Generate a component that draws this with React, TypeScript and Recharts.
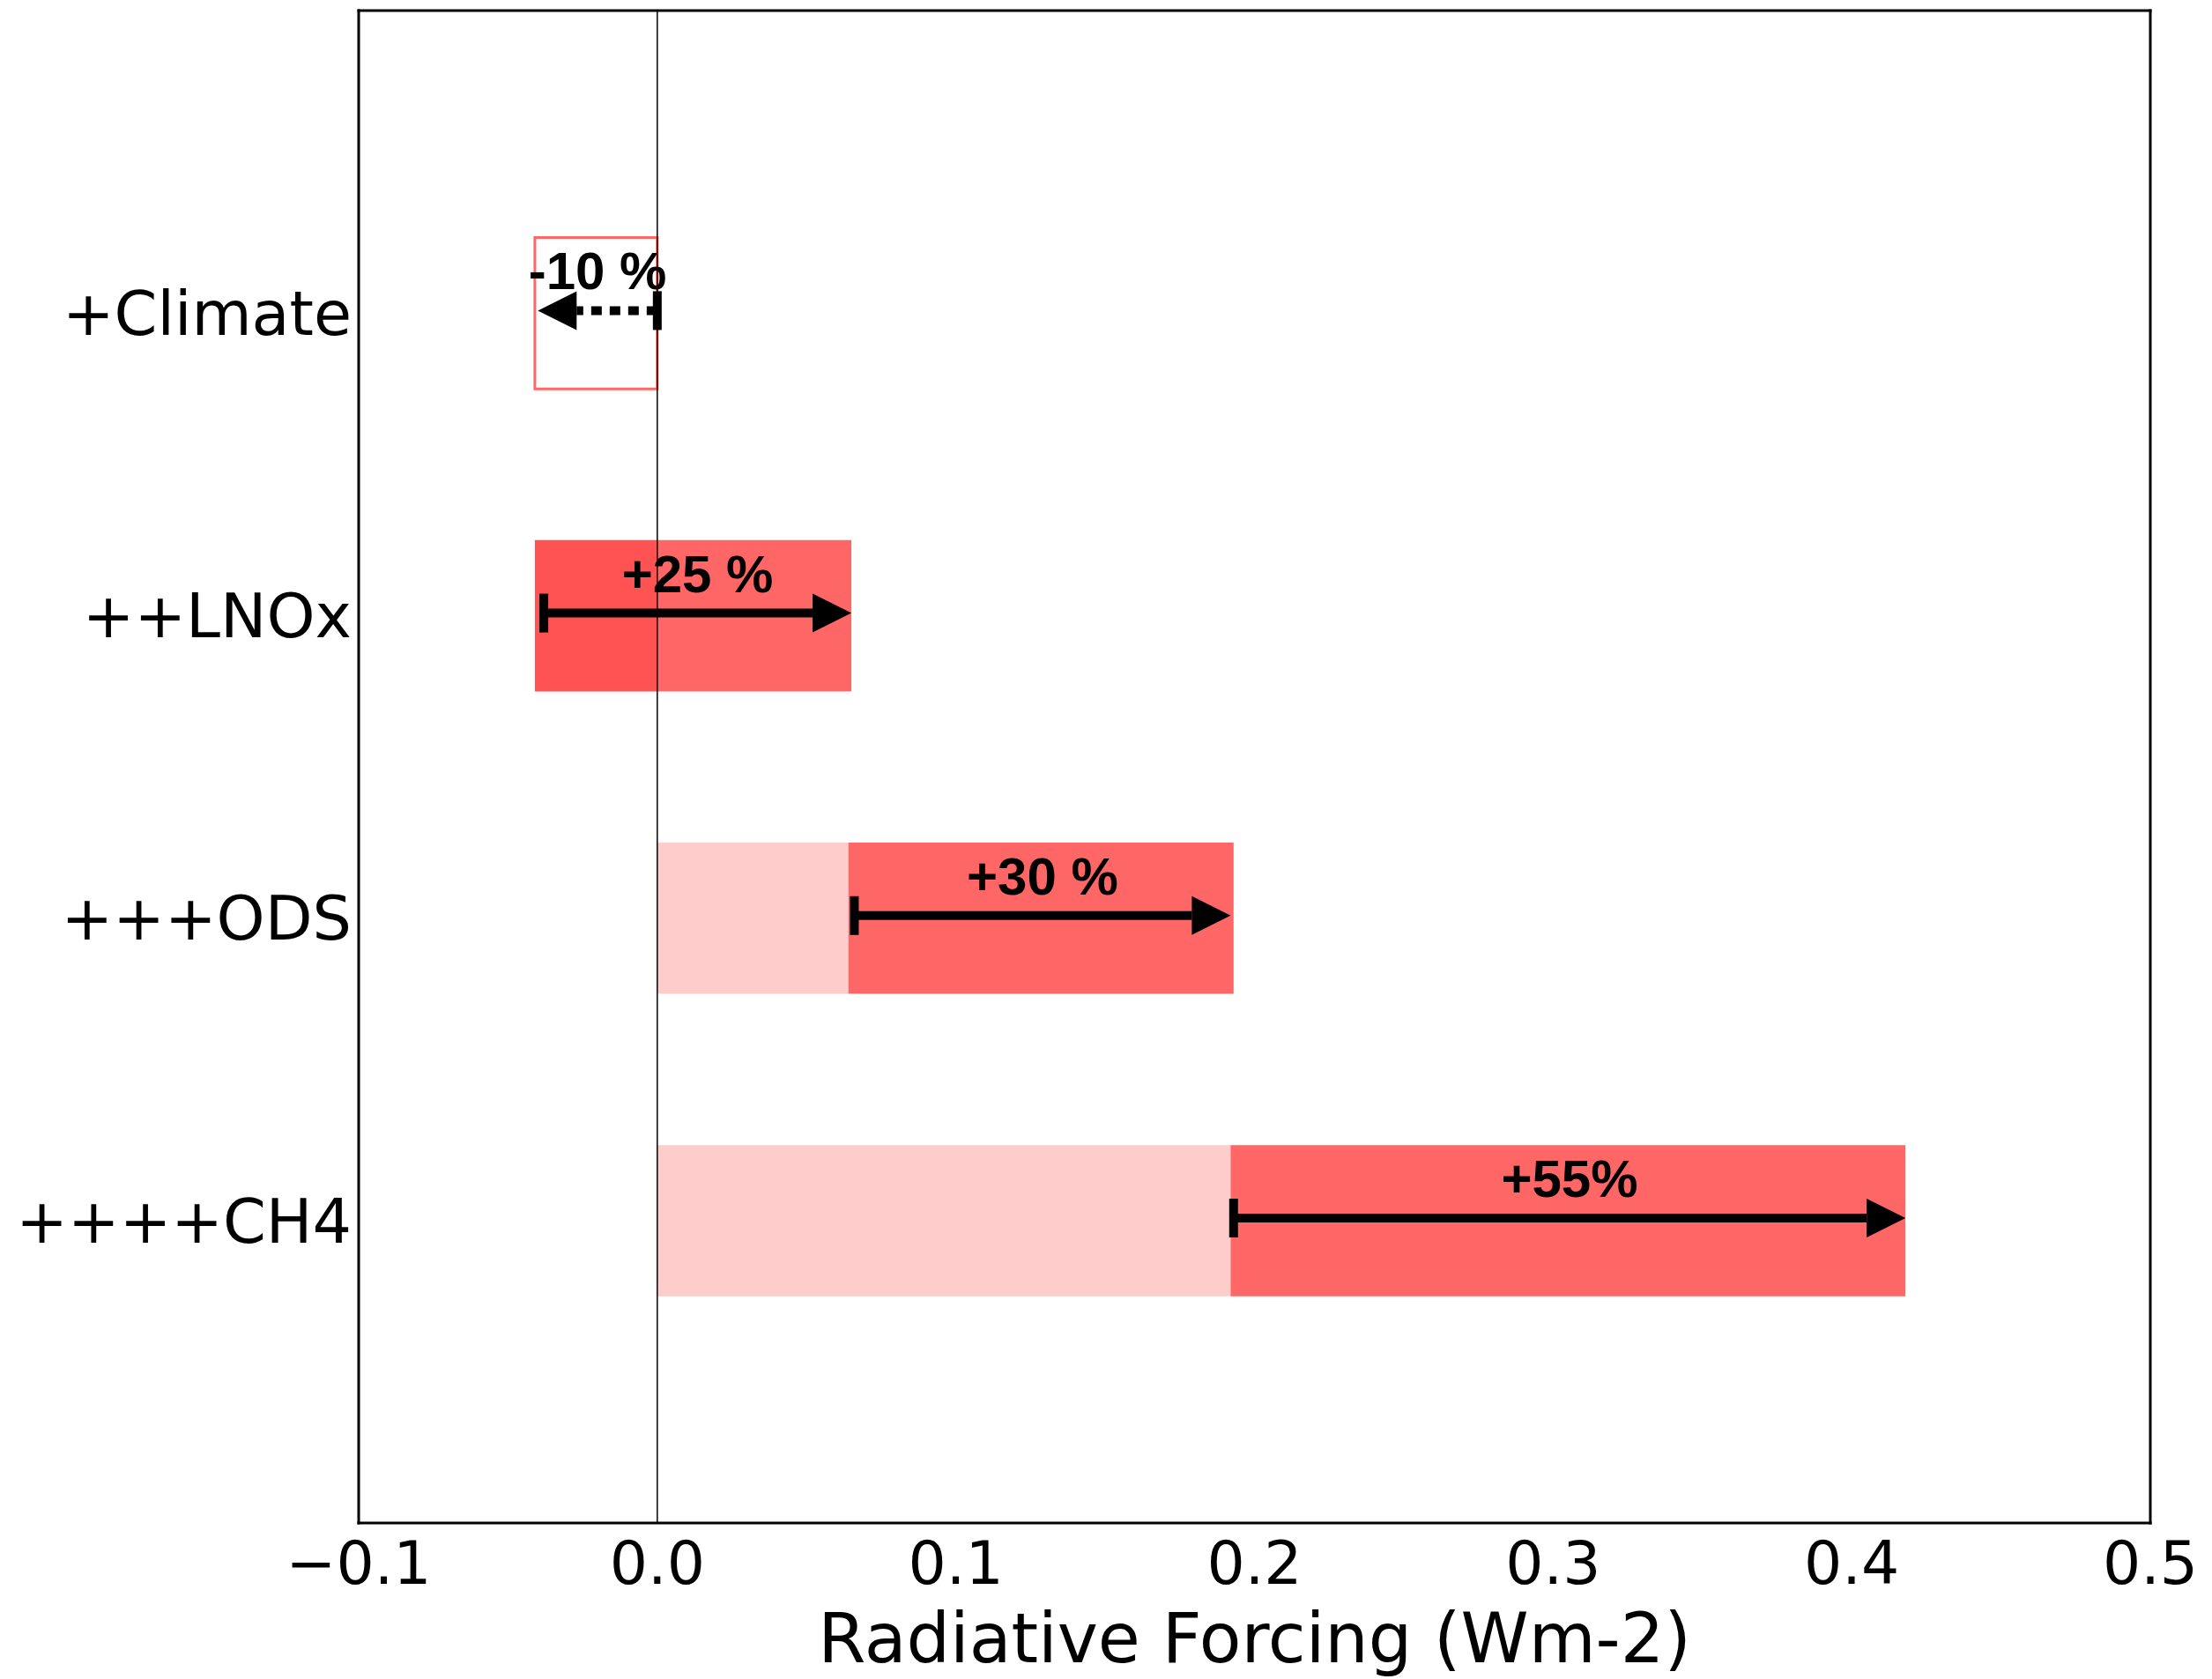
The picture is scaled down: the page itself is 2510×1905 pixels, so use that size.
import { Bar, Cell, ComposedChart, ReferenceLine, XAxis, YAxis } from "recharts";

// steps of the experiment, top to bottom
const categories = ["+Climate", "++LNOx", "+++ODS", "++++CH4"];
// cumulative radiative forcing before / after each step (Wm-2)
const previousRF = [0, -0.041, 0.064, 0.192];
const currentRF = [-0.041, 0.065, 0.193, 0.418];
// arrows drawn over the bars
const arrowFrom = [0, -0.038, 0.066, 0.193];
const arrowTo = [-0.04, 0.065, 0.192, 0.418];
const changeLabels = ["-10 %", "+25 %", "+30 %", "+55%"];
const dottedArrow = [true, false, false, false];

const xTicks = [-0.1, 0, 0.1, 0.2, 0.3, 0.4, 0.5];
const yTicks = [0, 1, 2, 3];

const W = 2510;
const H = 1905;
const margin = { top: 12, right: 70, bottom: 10, left: 7 };
const Y_AXIS_W = 400;
const X_AXIS_H = 167;
const plotH = H - margin.top - margin.bottom - X_AXIS_H;
const BAR = (plotH / 5) * 0.5;

const data = categories.map((name, i) => ({
  pos: i,
  name,
  base: i === 0 ? [0, 0] : [0, previousRF[i]],
  step: [previousRF[i], currentRF[i]],
  arrow: [arrowFrom[i], arrowTo[i]],
  label: changeLabels[i],
  dotted: dottedArrow[i],
}));

const xTickFont = { fill: "#000", fontSize: 68, fontFamily: "DejaVu Sans" };
const yTickFont = { fill: "#000", fontSize: 70, fontFamily: "DejaVu Sans" };
const frame = { stroke: "#000", strokeWidth: 3, strokeLinecap: "square" as const };
const innerTick = { stroke: "#000", strokeWidth: 1.5 };

const fmtX = (v: number) => (v < 0 ? `\u2212${Math.abs(v).toFixed(1)}` : v.toFixed(1));

function ChangeArrow(props: any) {
  const { x, y, width, height, payload } = props;
  if (x == null || y == null || !payload) return null;
  const x0 = x;
  const x1 = x + width;
  const dir = x1 >= x0 ? 1 : -1;
  const cy = y + height / 2 - 3;
  const head = 44;
  const half = 22;
  const lw = 10;
  const headBase = x1 - dir * head;
  return (
    <g>
      <line
        x1={x0}
        y1={cy}
        x2={headBase}
        y2={cy}
        stroke="#000"
        strokeWidth={lw}
        strokeDasharray={payload.dotted ? "12 9" : undefined}
      />
      <rect x={x0 - lw / 2} y={cy - half} width={lw} height={half * 2} fill="#000" />
      <polygon points={`${x1},${cy} ${headBase},${cy - half} ${headBase},${cy + half}`} fill="#000" />
      <text
        x={(x0 + x1) / 2}
        y={cy - 24}
        textAnchor="middle"
        fontFamily="Liberation Sans, Arial, sans-serif"
        fontWeight="bold"
        fontSize={60}
        fill="#000"
      >
        {payload.label}
      </text>
    </g>
  );
}

export default function App() {
  return (
    <div style={{ position: "absolute", left: 0, top: 0, background: "#fff" }}>
      <ComposedChart
        width={W}
        height={H}
        data={data}
        layout="vertical"
        margin={margin}
        barSize={BAR}
        barGap={-BAR}
      >
        <XAxis
          xAxisId="main"
          type="number"
          domain={[-0.1, 0.5]}
          ticks={xTicks}
          interval={0}
          allowDataOverflow
          tickFormatter={fmtX}
          tick={xTickFont}
          tickLine={false}
          tickSize={0}
          tickMargin={21}
          axisLine={frame}
          height={X_AXIS_H}
          label={{
            value: "Radiative Forcing (Wm-2)",
            position: "insideBottom",
            offset: 9,
            fill: "#000",
            fontSize: 78,
            fontFamily: "DejaVu Sans",
          }}
        />
        <XAxis
          xAxisId="bottomTicks"
          type="number"
          orientation="bottom"
          mirror
          domain={[-0.1, 0.5]}
          ticks={xTicks}
          interval={0}
          allowDataOverflow
          tick={false}
          axisLine={false}
          tickLine={innerTick}
          tickSize={15}
          height={1}
        />
        <XAxis
          xAxisId="top"
          type="number"
          orientation="top"
          mirror
          domain={[-0.1, 0.5]}
          ticks={xTicks}
          interval={0}
          allowDataOverflow
          tick={false}
          axisLine={frame}
          tickLine={innerTick}
          tickSize={15}
          height={1}
        />
        <YAxis
          yAxisId="main"
          type="number"
          dataKey="pos"
          domain={[-1, 4]}
          ticks={yTicks}
          interval={0}
          allowDataOverflow
          tickFormatter={(v: number) => categories[v] ?? ""}
          tick={yTickFont}
          tickLine={false}
          tickSize={0}
          tickMargin={8}
          axisLine={frame}
          width={Y_AXIS_W}
        />
        <YAxis
          yAxisId="leftTicks"
          type="number"
          orientation="left"
          mirror
          domain={[-1, 4]}
          ticks={yTicks}
          interval={0}
          allowDataOverflow
          tick={false}
          axisLine={false}
          tickLine={innerTick}
          tickSize={15}
          width={1}
        />
        <YAxis
          yAxisId="right"
          type="number"
          orientation="right"
          mirror
          domain={[-1, 4]}
          ticks={yTicks}
          interval={0}
          allowDataOverflow
          tick={false}
          axisLine={frame}
          tickLine={innerTick}
          tickSize={15}
          width={1}
        />
        <Bar
          xAxisId="main"
          yAxisId="main"
          dataKey="base"
          fill="#ff0000"
          fillOpacity={0.2}
          isAnimationActive={false}
        />
        <Bar xAxisId="main" yAxisId="main" dataKey="step" isAnimationActive={false}>
          {data.map((d, i) =>
            i === 0 ? (
              <Cell key={d.name} fill="none" stroke="#ff6666" strokeWidth={3} />
            ) : (
              <Cell key={d.name} fill="#ff0000" fillOpacity={0.6} />
            )
          )}
        </Bar>
        <ReferenceLine xAxisId="main" yAxisId="main" x={0} stroke="#000" strokeWidth={1.5} />
        <Bar
          xAxisId="main"
          yAxisId="main"
          dataKey="arrow"
          shape={<ChangeArrow />}
          isAnimationActive={false}
        />
      </ComposedChart>
    </div>
  );
}
